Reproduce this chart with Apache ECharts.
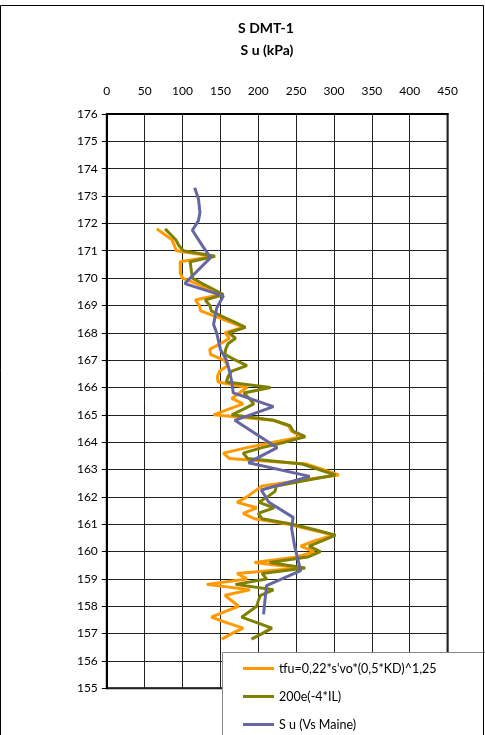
<!DOCTYPE html>
<html>
<head>
<meta charset="utf-8">
<script src="https://cdn.jsdelivr.net/npm/echarts@6/dist/echarts.min.js"></script>
<style>
  html, body { margin: 0; padding: 0; background: #fff; }
  #chart { width: 485px; height: 735px; }
</style>
</head>
<body>
<div id="chart"></div>
<script>
// Depths (m) of the DMT readings, shared by the two DMT-based profiles
const dmtDepth = [171.8,171.6,171.4,171.2,171.0,170.8,170.6,170.4,170.2,170.0,
  169.8,169.6,169.4,169.2,169.0,168.8,168.6,168.4,168.2,168.0,
  167.8,167.6,167.4,167.2,167.0,166.8,166.6,166.4,166.2,166.0,
  165.8,165.6,165.4,165.2,165.0,164.8,164.6,164.4,164.2,164.0,
  163.8,163.6,163.4,163.2,163.0,162.8,162.6,162.4,162.2,162.0,
  161.8,161.6,161.4,161.2,161.0,160.8,160.6,160.4,160.2,160.0,
  159.8,159.6,159.4,159.2,159.0,158.8,158.6,158.4,158.2,158.0,
  157.8,157.6,157.4,157.2,157.0,156.8];
// Su (kPa) from tfu = 0,22*s'vo*(0,5*KD)^1,25
const tfuSu = [66,76,86,89,92,141,97,97,97,100,
  118,134,150,117,122,124,143,162,181,156,
  162,150,136,137,155,160,149,146,147,185,
  175,165,180,160,141,220,240,244,258,220,
  185,154,162,264,285,306,255,205,195,185,
  172,198,180,195,240,270,299,275,256,274,
  251,195,255,172,185,132,189,156,165,174,
  156,138,158,180,165,152];
// Su (kPa) from 200e(-4*IL)
const ilSu = [77,84,91,95,101,143,110,111,112,113,
  126,140,154,130,136,138,152,168,183,161,
  170,160,157,156,170,185,165,160,158,216,
  181,188,194,180,165,220,242,246,262,235,
  205,180,186,258,280,302,262,224,222,212,
  201,221,200,205,245,275,302,285,267,282,
  265,215,262,205,211,170,220,203,200,198,
  188,178,198,218,205,191];
// Su (kPa) from shear-wave velocity (Maine correlation)
const vsDepth = [173.3,172.9,172.4,172.1,171.75,171.15,170.75,169.8,169.35,168.9,
  168.3,168.0,167.4,167.0,166.6,166.2,165.8,165.3,164.8,163.8,
  163.25,162.75,162.25,161.8,161.25,160.85,160.2,159.3,158.75,158.25,157.7];
const vsSu = [116,121,123,121,113,127,137,103,154,145,
  141,145,150,158,162,165,167,220,169,225,
  187,268,204,214,246,244,248,256,211,209,207];

const seriesNames = ["tfu=0,22*s'vo*(0,5*KD)^1,25", "200e(-4*IL)", "S u (Vs Maine)"];
const seriesColors = ['#FF9900', '#808000', '#6666A3'];

const font = 'Lato, "Open Sans", sans-serif';

function pairs(values, depths) {
  return values.map((v, i) => [v, depths[i]]);
}

// one legend row per series, stacked inside the white key box
const legendTops = [662, 690, 718];
const legends = seriesNames.map((name, i) => ({
  orient: 'vertical', left: 243, top: legendTops[i], padding: 0,
  icon: 'rect', itemWidth: 31, itemHeight: 3,
  textStyle: { fontFamily: font, fontSize: 12.5, color: '#000' },
  data: [name], z: 20
}));

const chart = echarts.init(document.getElementById('chart'), null, { renderer: 'canvas' });

chart.setOption({
  animation: false,
  backgroundColor: '#fff',
  textStyle: { fontFamily: font },
  title: [
    { text: 'S DMT-1', left: 261, top: 16, textAlign: 'center',
      textStyle: { fontFamily: font, fontSize: 14, fontWeight: 'bold', color: '#000' } },
    { text: 'S u (kPa)', left: 262, top: 38, textAlign: 'center',
      textStyle: { fontFamily: font, fontSize: 14, fontWeight: 'bold', color: '#000' } }
  ],
  grid: {
    left: 106.8, right: 37.4, top: 114, bottom: 46.7,
    show: true, borderColor: '#000', borderWidth: 2, backgroundColor: 'transparent'
  },
  xAxis: {
    type: 'value', position: 'top', min: 0, max: 450, interval: 50,
    axisLine: { show: true, lineStyle: { color: '#000', width: 2 } },
    axisTick: { show: false },
    axisLabel: { margin: 17, fontSize: 12, color: '#000', fontFamily: font },
    splitLine: { show: true, lineStyle: { color: '#222', width: 1 } }
  },
  yAxis: {
    type: 'value', min: 155, max: 176, interval: 1,
    axisLine: { show: true, lineStyle: { color: '#000', width: 2 } },
    axisTick: { show: true, length: 5, lineStyle: { color: '#000', width: 1 } },
    axisLabel: { margin: 9, fontSize: 12, color: '#000', fontFamily: font },
    splitLine: { show: true, lineStyle: { color: '#222', width: 1 } }
  },
  legend: legends,
  graphic: [
    { type: 'rect', z: 10, shape: { x: 222.5, y: 652.5, width: 300, height: 120 },
      style: { fill: '#fff', stroke: '#888', lineWidth: 1 } },
    { type: 'rect', z: 30, shape: { x: 0.5, y: 5.5, width: 483, height: 740 },
      style: { fill: 'none', stroke: '#000', lineWidth: 1 } }
  ],
  series: [
    { name: seriesNames[0], type: 'line', data: pairs(tfuSu, dmtDepth), showSymbol: false,
      lineStyle: { color: seriesColors[0], width: 3 }, itemStyle: { color: seriesColors[0] } },
    { name: seriesNames[1], type: 'line', data: pairs(ilSu, dmtDepth), showSymbol: false,
      lineStyle: { color: seriesColors[1], width: 3 }, itemStyle: { color: seriesColors[1] } },
    { name: seriesNames[2], type: 'line', data: pairs(vsSu, vsDepth), showSymbol: false,
      lineStyle: { color: seriesColors[2], width: 3 }, itemStyle: { color: seriesColors[2] } }
  ]
});
</script>
</body>
</html>
